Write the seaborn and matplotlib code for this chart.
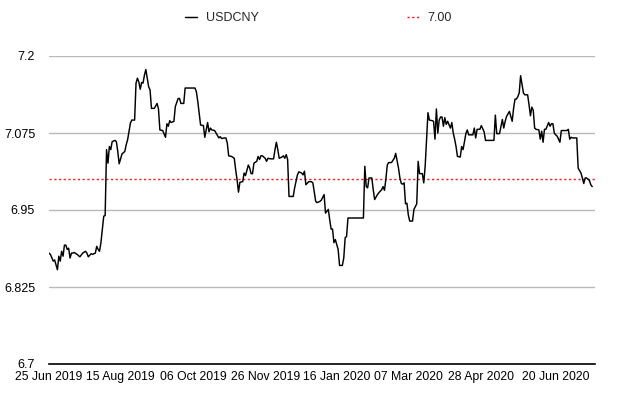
import matplotlib
matplotlib.use("Agg")
import matplotlib.pyplot as plt
import numpy as np
import pandas as pd
import seaborn as sns

# ---------------- data ----------------
series_name = "USDCNY"
threshold_label = "7.00"
threshold = 7.00
start_date = "2019-06-25"
x_end_date = "2020-07-18"

day_offsets = [
    0, 1, 3, 4, 6, 7, 8, 9, 10, 11, 12, 13, 14, 15, 16, 17, 18, 20, 21, 22,
    24, 26, 27, 28, 30, 31, 33, 34, 35, 36, 37, 39, 40, 41, 42, 43, 44, 45, 47, 48,
    49, 50, 52, 54, 55, 56, 58, 59, 61, 62, 63, 64, 65, 66, 67, 68, 69, 71, 72, 73,
    75, 77, 78, 79, 81, 83, 84, 85, 86, 87, 89, 90, 92, 93,
    94, 96, 97, 104, 105, 106, 108, 110, 111, 112, 113, 114, 115, 116, 118, 119, 121, 122, 123, 125,
    126, 127, 128, 130, 132, 133, 134, 135, 136, 138, 139, 140, 142, 143, 144, 145, 146, 148, 149, 150,
    151, 152, 154, 155, 156, 158, 160, 161, 162, 163, 164, 166, 167, 168, 169, 170, 171, 174, 175, 177,
    178, 180, 181, 182, 183, 185, 187, 188, 190, 191,
    193, 194, 196, 197, 199, 200, 201, 202, 203, 204, 205, 206, 207, 209, 210, 211, 212, 213, 224, 225,
    226, 227, 228, 230, 231, 232, 234, 235, 237, 238, 239, 240, 241, 242, 244, 246, 247, 249, 250, 251,
    252, 253, 254, 255, 256, 257, 259, 260, 262, 263, 264, 266, 267, 268, 270, 271, 273, 274, 275, 276,
    277, 278, 279, 280, 281, 282, 283, 284, 286, 287, 288,
    289, 290, 291, 293, 294, 295, 297, 298, 299, 301, 302, 303, 304, 305, 307, 308, 310, 311, 317, 318,
    319, 321, 323, 324, 325, 326, 328, 329, 330, 331, 332, 333, 334, 335, 336, 338, 339, 341, 342, 343,
    344, 345, 346, 347, 349, 350, 351, 352, 353, 354, 356, 357, 358, 359, 360, 361, 362, 364, 365, 367,
    369, 370, 371, 372, 373, 375, 376, 377, 379, 380, 381, 382, 383, 385, 386, 387,
]

usdcny = [
    6.880, 6.878, 6.867, 6.869, 6.853, 6.875, 6.867, 6.883, 6.875, 6.893, 6.893, 6.886, 6.888, 6.872, 6.880, 6.880, 6.881, 6.878, 6.876, 6.874,
    6.880, 6.883, 6.880, 6.874, 6.879, 6.878, 6.880, 6.891, 6.886, 6.883, 6.897, 6.940, 6.941, 7.048, 7.026, 7.053, 7.048, 7.061, 7.063, 7.061,
    7.045, 7.025, 7.041, 7.045, 7.056, 7.064, 7.091, 7.096, 7.096, 7.156, 7.164, 7.158, 7.146, 7.157, 7.156, 7.169, 7.178, 7.150, 7.145, 7.115,
    7.115, 7.123, 7.114, 7.080, 7.079, 7.068, 7.090, 7.086, 7.095, 7.092, 7.094, 7.118, 7.131, 7.131,
    7.123, 7.123, 7.148, 7.148, 7.142, 7.126, 7.088, 7.087, 7.068, 7.080, 7.092, 7.077, 7.083, 7.080, 7.079, 7.075, 7.067, 7.069, 7.066, 7.067,
    7.067, 7.059, 7.038, 7.037, 7.034, 7.015, 6.999, 6.979, 6.995, 6.996, 7.010, 7.006, 7.023, 7.018, 7.009, 7.009, 7.026, 7.029, 7.037, 7.032,
    7.038, 7.038, 7.034, 7.029, 7.034, 7.033, 7.033, 7.048, 7.060, 7.048, 7.034, 7.036, 7.038, 7.034, 7.040, 7.032, 6.972, 6.972, 6.986, 7.007,
    7.012, 7.010, 7.007, 7.013, 6.991, 6.996, 6.996, 6.994, 6.964, 6.962,
    6.964, 6.966, 6.975, 6.945, 6.951, 6.934, 6.919, 6.919, 6.897, 6.902, 6.894, 6.886, 6.860, 6.860, 6.872, 6.905, 6.907, 6.937, 6.937, 7.021,
    6.988, 6.986, 7.002, 7.002, 6.983, 6.967, 6.975, 6.978, 6.983, 6.988, 6.982, 7.000, 7.023, 7.027, 7.027, 7.034, 7.042, 7.018, 7.002, 6.993,
    6.992, 6.994, 6.960, 6.961, 6.942, 6.932, 6.932, 6.951, 6.960, 7.029, 7.009, 7.009, 6.994, 7.021, 7.108, 7.096, 7.095, 7.094, 7.065, 7.114,
    7.075, 7.096, 7.101, 7.101, 7.086, 7.100, 7.089, 7.094, 7.083, 7.092, 7.075,
    7.065, 7.053, 7.037, 7.036, 7.053, 7.048, 7.074, 7.080, 7.072, 7.072, 7.072, 7.083, 7.067, 7.081, 7.081, 7.087, 7.077, 7.063, 7.063, 7.104,
    7.074, 7.074, 7.097, 7.083, 7.094, 7.102, 7.110, 7.102, 7.094, 7.115, 7.130, 7.130, 7.134, 7.140, 7.168, 7.140, 7.137, 7.137, 7.121, 7.103,
    7.117, 7.112, 7.083, 7.081, 7.080, 7.065, 7.078, 7.060, 7.081, 7.081, 7.092, 7.086, 7.090, 7.090, 7.075, 7.072, 7.070, 7.060, 7.079, 7.079,
    7.079, 7.081, 7.065, 7.068, 7.067, 7.067, 7.067, 7.018, 7.010, 7.002, 6.993, 7.002, 7.002, 6.998, 6.991, 6.988,
]

y_ticks = [6.7, 6.825, 6.95, 7.075, 7.2]
y_tick_labels = ["6.7", "6.825", "6.95", "7.075", "7.2"]
x_tick_dates = ["2019-06-25", "2019-08-15", "2019-10-06", "2019-11-26",
                "2020-01-16", "2020-03-07", "2020-04-28", "2020-06-20"]
x_tick_labels = ["25 Jun 2019", "15 Aug 2019", "06 Oct 2019", "26 Nov 2019",
                 "16 Jan 2020", "07 Mar 2020", "28 Apr 2020", "20 Jun 2020"]

# ---------------- plot ----------------
sns.set_theme(style="white")
plt.rcParams["font.family"] = ["Liberation Sans", "DejaVu Sans"]

df = pd.DataFrame({
    "date": pd.Timestamp(start_date) + pd.to_timedelta(day_offsets, unit="D"),
    "value": usdcny,
})

W, H = 627, 399
fig = plt.figure(figsize=(W / 100, H / 100), dpi=100)
ax = fig.add_axes([49 / W, 1 - 364 / H, (595 - 49) / W, (364 - 56) / H])

ax.set_axisbelow(True)
ax.yaxis.grid(True, color="#b9b9b9", lw=1.0)
ax.xaxis.grid(False)

sns.lineplot(data=df, x="date", y="value", color="black", lw=1.05, ax=ax,
             label=series_name, zorder=3)
ax.axhline(threshold, color="#f01e1e", lw=1.0, ls=(0, (1.6, 1.8)), label=threshold_label, zorder=2)

ax.set_ylim(y_ticks[0], y_ticks[-1])
ax.set_xlim(pd.Timestamp(start_date), pd.Timestamp(x_end_date))
ax.set_yticks(y_ticks)
ax.set_yticklabels(y_tick_labels)
ax.set_xticks(pd.to_datetime(x_tick_dates))
ax.set_xticklabels(x_tick_labels)
ax.set_xlabel("")
ax.set_ylabel("")

for s in ["left", "right", "top"]:
    ax.spines[s].set_visible(False)
ax.spines["bottom"].set_color("black")
ax.spines["bottom"].set_linewidth(1.2)
ax.spines["bottom"].set_zorder(4)

ax.tick_params(axis="both", length=0, labelcolor="black")
ax.tick_params(axis="y", pad=10, labelsize=9)
ax.tick_params(axis="x", pad=5, labelsize=8.8)

handles, labels = ax.get_legend_handles_labels()
if ax.get_legend() is not None:
    ax.get_legend().remove()
fig.legend(handles, labels, loc="center", bbox_to_anchor=(318.5 / W, 1 - 18 / H),
           ncol=2, frameon=False, fontsize=9, handlelength=1.0,
           handletextpad=0.7, columnspacing=11.8)

fig.savefig("out.png", dpi=100, facecolor="white")
